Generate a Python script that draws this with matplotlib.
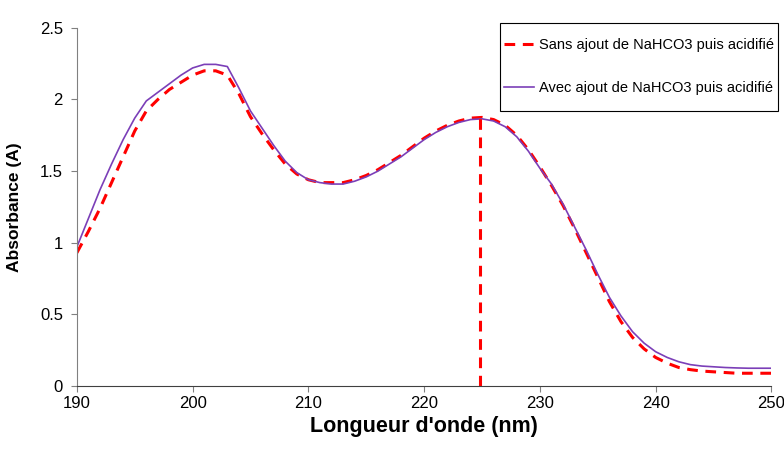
import numpy as np
import matplotlib
matplotlib.use("Agg")
import matplotlib.pyplot as plt
from matplotlib.patches import Rectangle

plt.rcParams['font.family'] = ['Liberation Sans', 'DejaVu Sans']

# wavelengths (nm)
wl = list(range(190, 251))

# Sans ajout de NaHCO3 puis acidifie (red dashed)
sans = [0.93, 1.08, 1.24, 1.42, 1.60, 1.78, 1.92, 2.00, 2.07, 2.12,
        2.17, 2.20, 2.20, 2.17, 2.04, 1.88, 1.76, 1.65, 1.55, 1.48,
        1.44, 1.42, 1.42, 1.42, 1.44, 1.47, 1.51, 1.56, 1.61, 1.67,
        1.73, 1.78, 1.82, 1.85, 1.87, 1.875, 1.86, 1.82, 1.75, 1.65,
        1.53, 1.40, 1.26, 1.10, 0.93, 0.76, 0.59, 0.45, 0.34, 0.26,
        0.20, 0.16, 0.13, 0.115, 0.105, 0.10, 0.095, 0.09, 0.09, 0.09,
        0.09]

# Avec ajout de NaHCO3 puis acidifie (purple)
avec = [0.97, 1.17, 1.37, 1.55, 1.72, 1.87, 1.99, 2.05, 2.11, 2.17,
        2.22, 2.245, 2.245, 2.23, 2.08, 1.92, 1.80, 1.68, 1.57, 1.49,
        1.44, 1.42, 1.41, 1.41, 1.43, 1.46, 1.50, 1.55, 1.60, 1.66,
        1.72, 1.77, 1.81, 1.84, 1.86, 1.865, 1.85, 1.81, 1.74, 1.64,
        1.52, 1.41, 1.27, 1.11, 0.95, 0.78, 0.62, 0.49, 0.38, 0.30,
        0.24, 0.20, 0.17, 0.15, 0.14, 0.135, 0.13, 0.127, 0.125, 0.125,
        0.125]

# max of the second band
peak_wl = 224.8
peak_abs = 1.875

red = '#FF0000'
purple = '#7B3FB8'

fig = plt.figure(figsize=(7.84, 4.49), dpi=100)
ax = fig.add_axes([0.098, 0.140, 0.886, 0.798])

ax.plot(wl, sans, color=red, lw=2.2, ls=(0, (3.5, 2.5)),
        label='Sans ajout de NaHCO3 puis acidifié')
ax.plot(wl, avec, color=purple, lw=1.2,
        label='Avec ajout de NaHCO3 puis acidifié')
ax.plot([peak_wl, peak_wl], [0, peak_abs], color=red, lw=2.2, ls=(0, (3.5, 2.5)))

ax.set_xlim(190, 250)
ax.set_ylim(0, 2.5)
ax.set_xticks(np.arange(190, 251, 10))
ax.set_yticks([0, 0.5, 1, 1.5, 2, 2.5])
ax.set_yticklabels(['0', '0.5', '1', '1.5', '2', '2.5'])
ax.tick_params(labelsize=12, length=4, color='#808080')
ax.tick_params(axis='y', pad=6)
ax.tick_params(axis='x', pad=3)

for s in ['top', 'right']:
    ax.spines[s].set_visible(False)
ax.spines['left'].set_color('#808080')
ax.spines['bottom'].set_color('#404040')

ax.set_xlabel("Longueur d'onde (nm)", fontsize=15.5, fontweight='bold', labelpad=4)
ax.set_ylabel('Absorbance (A)', fontsize=12.5, fontweight='bold', labelpad=13)

# legend box drawn separately (taller than wide padding allows)
fig.patches.append(Rectangle((0.638, 0.753), 0.354, 0.196, transform=fig.transFigure,
                             fill=True, facecolor='white', edgecolor='black', lw=0.8))
leg = fig.legend(loc='center', bbox_to_anchor=(0.815, 0.851), fontsize=10.5,
                 frameon=False, borderaxespad=0, borderpad=0,
                 labelspacing=2.0, handlelength=2.05, handletextpad=0.35)

fig.savefig('out.png', dpi=100)
